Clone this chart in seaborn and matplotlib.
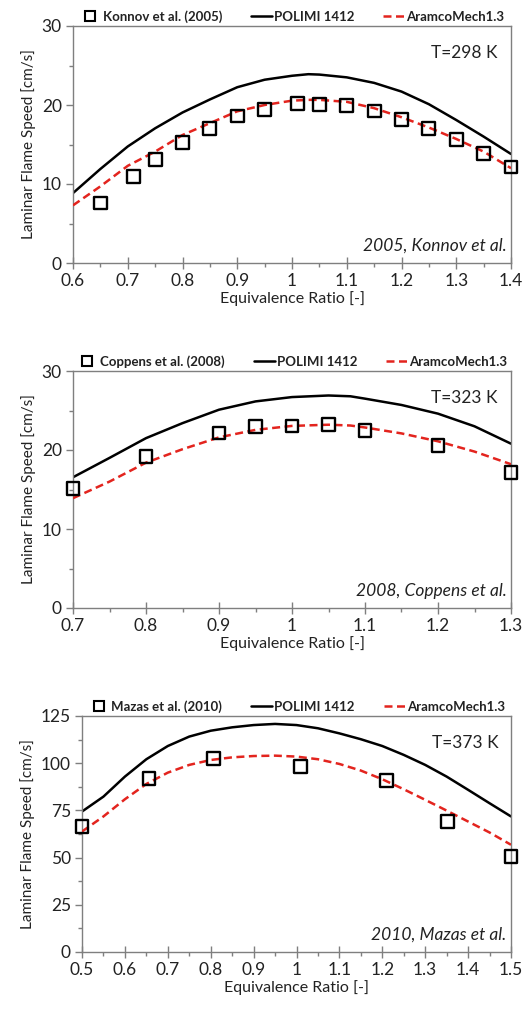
import matplotlib
matplotlib.use("Agg")
import matplotlib.pyplot as plt
import seaborn as sns
import pandas as pd
from matplotlib.ticker import MultipleLocator, FuncFormatter
from matplotlib.lines import Line2D

sns.set_theme(style="white")
plt.rcParams['font.family'] = ['Lato', 'DejaVu Sans']

# ---------- Panel 1: T=298 K ----------
p1_exp_x = [0.65, 0.71, 0.75, 0.80, 0.85, 0.90, 0.95, 1.01, 1.05, 1.10, 1.15, 1.20, 1.25, 1.30, 1.35, 1.40]
p1_exp_y = [7.6, 11.0, 13.15, 15.3, 17.0, 18.6, 19.45, 20.15, 20.05, 19.95, 19.25, 18.15, 17.0, 15.6, 13.9, 12.15]
p1_mod_x = [0.60, 0.65, 0.70, 0.75, 0.80, 0.85, 0.90, 0.95, 1.00, 1.03, 1.05, 1.10, 1.15, 1.20, 1.25, 1.30, 1.35, 1.40]
p1_polimi = [8.85, 11.9, 14.75, 17.05, 19.05, 20.7, 22.25, 23.2, 23.7, 23.9, 23.85, 23.5, 22.8, 21.7, 20.1, 18.1, 16.0, 13.8]
p1_aramco = [7.3, 9.7, 12.3, 14.1, 16.2, 17.7, 19.2, 20.0, 20.55, 20.65, 20.65, 20.4, 19.6, 18.45, 17.15, 15.7, 14.1, 12.0]

# ---------- Panel 2: T=323 K ----------
p2_exp_x = [0.70, 0.80, 0.90, 0.95, 1.00, 1.05, 1.10, 1.20, 1.30]
p2_exp_y = [15.15, 19.2, 22.15, 22.95, 23.05, 23.2, 22.45, 20.55, 17.15]
p2_mod_x = [0.70, 0.75, 0.80, 0.85, 0.90, 0.95, 1.00, 1.05, 1.08, 1.10, 1.15, 1.20, 1.25, 1.30]
p2_polimi = [16.55, 19.0, 21.5, 23.4, 25.1, 26.15, 26.7, 26.9, 26.8, 26.5, 25.7, 24.6, 23.0, 20.8]
p2_aramco = [13.9, 16.0, 18.4, 20.1, 21.6, 22.55, 23.05, 23.2, 23.1, 22.85, 22.1, 21.1, 19.8, 18.2]

# ---------- Panel 3: T=373 K ----------
p3_exp_x = [0.50, 0.656, 0.806, 1.01, 1.21, 1.352, 1.50]
p3_exp_y = [66.5, 91.7, 102.4, 98.4, 90.8, 69.1, 50.6]
p3_mod_x = [0.50, 0.55, 0.60, 0.65, 0.70, 0.75, 0.80, 0.85, 0.90, 0.95, 1.00, 1.05, 1.10,
            1.15, 1.20, 1.25, 1.30, 1.35, 1.40, 1.45, 1.50]
p3_polimi = [74.4, 82.3, 92.9, 102.1, 109.1, 114.1, 117.2, 119.0, 120.2, 120.8, 120.2, 118.5,
             115.8, 112.7, 109.1, 104.4, 99.1, 92.9, 85.9, 78.8, 71.8]
p3_aramco = [63.8, 71.8, 80.9, 89.0, 95.0, 99.1, 101.7, 103.1, 103.8, 104.0, 103.5, 102.1,
             99.6, 96.1, 91.5, 86.2, 80.6, 74.9, 69.1, 63.3, 56.8]

panels = [
    dict(ex=p1_exp_x, ey=p1_exp_y, mx=p1_mod_x, pol=p1_polimi, ara=p1_aramco,
         exp_label="Konnov et al. (2005)", temp="T=298 K", cite="2005, Konnov et al.",
         xlim=(0.6, 1.4), xmaj=0.1, xmin=0.05, ylim=(0, 30), ymaj=10, ymin=5,
         rect=[73, 26, 511, 263]),
    dict(ex=p2_exp_x, ey=p2_exp_y, mx=p2_mod_x, pol=p2_polimi, ara=p2_aramco,
         exp_label="Coppens et al. (2008)", temp="T=323 K", cite="2008, Coppens et al.",
         xlim=(0.7, 1.3), xmaj=0.1, xmin=0.05, ylim=(0, 30), ymaj=10, ymin=5,
         rect=[73, 371, 511, 608]),
    dict(ex=p3_exp_x, ey=p3_exp_y, mx=p3_mod_x, pol=p3_polimi, ara=p3_aramco,
         exp_label="Mazas et al. (2010)", temp="T=373 K", cite="2010, Mazas et al.",
         xlim=(0.5, 1.5), xmaj=0.1, xmin=0.05, ylim=(0, 125), ymaj=25, ymin=12.5,
         rect=[82, 716, 511, 952]),
]

W, H = 527, 1010
fig = plt.figure(figsize=(W / 100, H / 100), dpi=100)
red = "#e3241e"
spine_col = "#7f7f7f"

def fmt(v, pos):
    s = f"{v:.1f}"
    if s.endswith(".0"):
        s = s[:-2]
    return s

for p in panels:
    l, t, r, b = p["rect"]
    ax = fig.add_axes([l / W, 1 - b / H, (r - l) / W, (b - t) / H])
    dm = pd.DataFrame({"x": p["mx"], "polimi": p["pol"], "aramco": p["ara"]})
    de = pd.DataFrame({"x": p["ex"], "y": p["ey"]})
    sns.lineplot(data=dm, x="x", y="polimi", ax=ax, color="black", lw=1.8, zorder=2)
    sns.lineplot(data=dm, x="x", y="aramco", ax=ax, color=red, lw=1.8, zorder=3,
                 linestyle=(0, (3.2, 1.8)))
    sns.scatterplot(data=de, x="x", y="y", ax=ax, marker="s", s=85, facecolor="none",
                    edgecolor="black", linewidth=1.7, zorder=4, clip_on=False)
    ax.set_xlim(*p["xlim"])
    ax.set_ylim(*p["ylim"])
    ax.xaxis.set_major_locator(MultipleLocator(p["xmaj"]))
    ax.xaxis.set_minor_locator(MultipleLocator(p["xmin"]))
    ax.yaxis.set_major_locator(MultipleLocator(p["ymaj"]))
    ax.yaxis.set_minor_locator(MultipleLocator(p["ymin"]))
    ax.xaxis.set_major_formatter(FuncFormatter(fmt))
    ax.tick_params(axis="both", which="major", direction="out", length=5, width=1,
                   color=spine_col, labelsize=12.5, labelcolor="#222222", pad=3,
                   bottom=True, left=True)
    ax.tick_params(axis="x", which="major", direction="inout", length=8)
    ax.tick_params(axis="both", which="minor", direction="out", length=3, width=1,
                   color=spine_col, bottom=True, left=True)
    for s in ax.spines.values():
        s.set_color(spine_col)
        s.set_linewidth(1)
    ax.set_xlabel("Equivalence Ratio [-]", fontsize=11.5, color="#222222", labelpad=2)
    ax.set_ylabel("Laminar Flame Speed [cm/s]", fontsize=11, color="#222222", labelpad=4)
    ax.text(0.97, 0.92, p["temp"], transform=ax.transAxes, ha="right", va="top",
            fontsize=12.5, color="#222222")
    ax.text(0.99, 0.04, p["cite"], transform=ax.transAxes, ha="right", va="bottom",
            fontsize=12.5, style="italic", color="#222222")
    handles = [
        Line2D([], [], marker="s", linestyle="none", markerfacecolor="none",
               markeredgecolor="black", markeredgewidth=1.5, markersize=7),
        Line2D([], [], color="black", lw=1.8),
        Line2D([], [], color=red, lw=1.8, linestyle=(0, (3.2, 1.8))),
    ]
    labels = [p["exp_label"], "POLIMI 1412", "AramcoMech1.3"]
    leg = ax.legend(handles, labels, loc="lower center", bbox_to_anchor=(0.5, 0.985),
                    ncol=3, frameon=False, prop={"weight": "bold", "size": 9.5},
                    handlelength=1.6, handletextpad=0.15, columnspacing=2.2,
                    borderaxespad=0.1)
    for txt in leg.get_texts():
        txt.set_color("#222222")

fig.savefig("out.png", dpi=100)
